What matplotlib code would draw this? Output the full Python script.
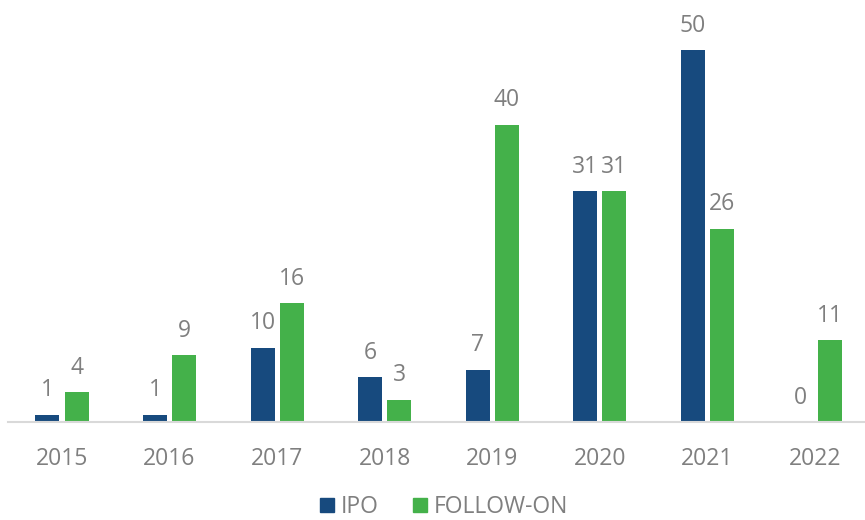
import matplotlib
matplotlib.use("Agg")
import matplotlib.pyplot as plt
from matplotlib.patches import Patch
import numpy as np

years = ["2015", "2016", "2017", "2018", "2019", "2020", "2021", "2022"]
ipo = [1, 1, 10, 6, 7, 31, 50, 0]
follow_on = [4, 9, 16, 3, 40, 31, 26, 11]

blue = "#174a7e"
green = "#44b14a"
gray = "#7f7f7f"

plt.rcParams['font.family'] = ['Open Sans', 'DejaVu Sans']
fs = 16.5

fig = plt.figure(figsize=(8.65, 5.2), dpi=100)
ax = fig.add_axes([8.2/865, 98/520, 860.6/865, 409/520])
x = np.arange(len(years))
w = 0.223
off = 0.135
b1 = ax.bar(x - off, ipo, w, color=blue, label="IPO")
b2 = ax.bar(x + off, follow_on, w, color=green, label="FOLLOW-ON")
for bars, vals in ((b1, ipo), (b2, follow_on)):
    for rect, v in zip(bars, vals):
        ax.annotate(str(v), (rect.get_x() + rect.get_width()/2, rect.get_height()),
                    xytext=(0, 9), textcoords="offset points", ha="center", va="bottom",
                    fontsize=fs, color=gray)
ax.set_xlim(-0.5, 7.5)
ax.set_ylim(0, 55)
ax.set_xticks(x)
ax.set_xticklabels(years, fontsize=fs, color=gray)
ax.tick_params(axis='x', length=0, pad=18)
ax.set_yticks([])
for s in ["top", "right", "left"]:
    ax.spines[s].set_visible(False)
ax.spines["bottom"].set_color("#d9d9d9")
ax.spines["bottom"].set_linewidth(1.5)
handles = [Patch(color=blue), Patch(color=green)]
fig.legend(handles, ["IPO", "FOLLOW-ON"], loc="center", bbox_to_anchor=(444/865, 1 - 507/520),
           ncol=2, frameon=False, fontsize=fs, labelcolor=gray, handlelength=0.6, handleheight=0.6,
           handletextpad=0.3, columnspacing=1.5, borderpad=0.1)
fig.savefig("out.png", dpi=100)
